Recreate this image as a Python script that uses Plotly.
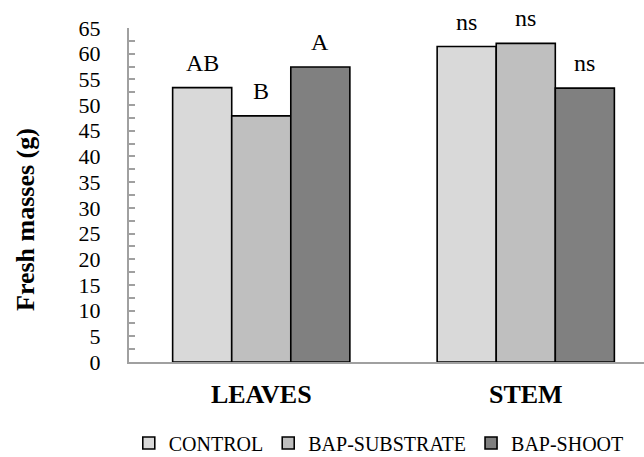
import plotly.graph_objects as go

categories = ["LEAVES", "STEM"]
series_names = ["CONTROL", "BAP-SUBSTRATE", "BAP-SHOOT"]
control = [53.4, 61.4]
bap_substrate = [47.9, 62.0]
bap_shoot = [57.4, 53.3]
letters_control = ["AB", "ns"]
letters_substrate = ["B", "ns"]
letters_shoot = ["A", "ns"]

colors = ["#D9D9D9", "#BFBFBF", "#808080"]
FONT = "Liberation Serif"
bargap = 0.33

values = [control, bap_substrate, bap_shoot]
letters = [letters_control, letters_substrate, letters_shoot]

fig = go.Figure()
for name, vals, col in zip(series_names, values, colors):
    fig.add_trace(go.Bar(
        x=categories, y=vals, name=name,
        marker=dict(color=col, line=dict(color="black", width=1.6)),
    ))

barw = (1 - bargap) / 3
for j, (vals, labs) in enumerate(zip(values, letters)):
    for i, (v, t) in enumerate(zip(vals, labs)):
        fig.add_annotation(
            x=i + (j - 1) * barw, y=v, xref="x", yref="y",
            text=t, showarrow=False, yanchor="bottom", yshift=10,
            font=dict(family=FONT, size=24, color="black"),
        )

fig.add_annotation(
    x=(25 - 129) / 515, y=(362 - 220) / 334, xref="paper", yref="paper",
    text="<b>Fresh masses (g)</b>", textangle=-90, showarrow=False,
    xanchor="center", yanchor="middle",
    font=dict(family=FONT, size=26, color="black"),
)

fig.update_layout(
    template="none",
    width=644, height=457,
    margin=dict(l=129, r=0, t=28, b=95, autoexpand=False),
    paper_bgcolor="white", plot_bgcolor="white",
    barmode="group", bargap=bargap, bargroupgap=0,
    font=dict(family=FONT, color="black"),
    showlegend=True,
    legend=dict(orientation="h", x=0.485, xanchor="center", y=(362 - 443) / 334,
                yanchor="middle",
                font=dict(family="Liberation Serif, Times New Roman, serif", size=20, color="black"),
                itemwidth=30, traceorder="normal", tracegroupgap=0),
)
fig.update_xaxes(
    type="category", range=[-0.5, 1.447], automargin=False,
    showline=True, linecolor="#A0A0A0", linewidth=2,
    ticks="", showgrid=False, zeroline=False,
    tickfont=dict(family=FONT, size=26, color="black", weight="bold"),
    ticklabelstandoff=8,
)
fig.update_yaxes(
    range=[0, 65], dtick=5, tick0=0, automargin=False,
    showline=True, linecolor="#A0A0A0", linewidth=2,
    ticks="inside", ticklen=6, tickcolor="#A0A0A0", tickwidth=2,
    minor=dict(dtick=2.5, ticks="inside", ticklen=6, tickcolor="#A0A0A0", tickwidth=2, showgrid=False),
    showgrid=False, zeroline=False,
    tickfont=dict(family=FONT, size=22, color="black"),
    ticklabelstandoff=22,
)

fig.write_html("out.html", config={"displayModeBar": False},
               post_script="document.body.style.margin='0';")
